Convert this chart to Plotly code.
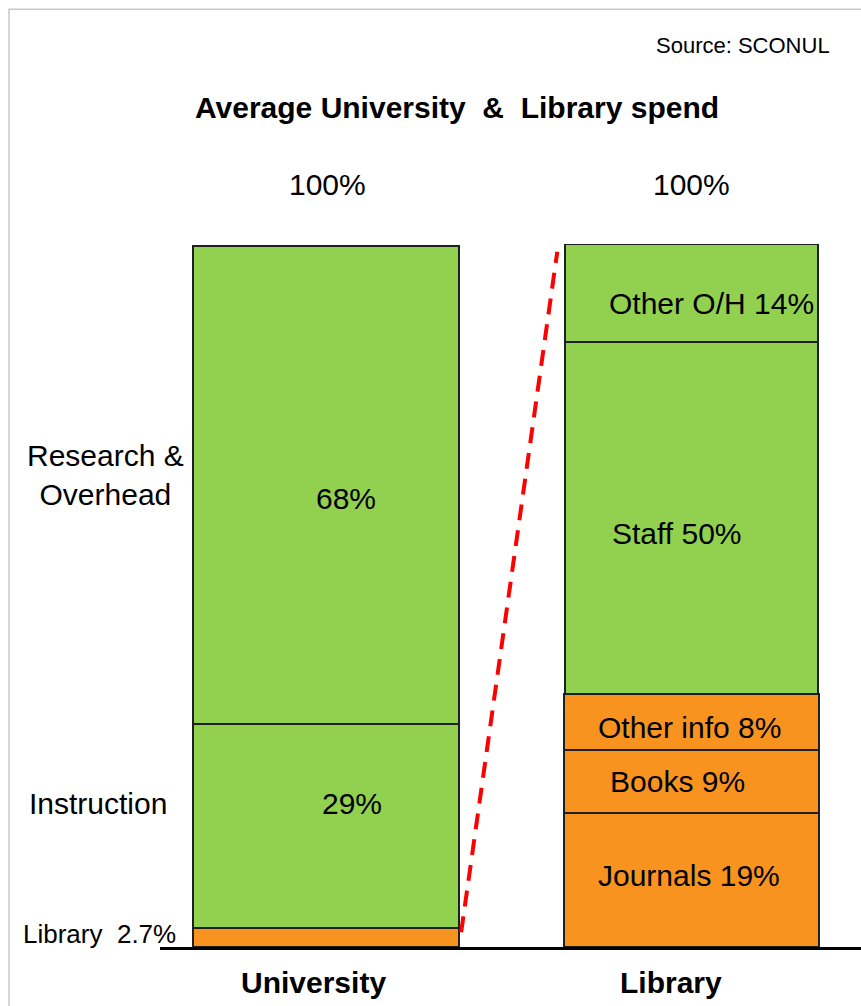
import plotly.graph_objects as go

# ---- data -------------------------------------------------------------
categories = ["University", "Library"]

uni_segments = ["Library", "Instruction", "Research & Overhead"]
uni_values = [2.7, 29, 68]

lib_segments = ["Journals", "Books", "Other info", "Staff", "Other O/H"]
lib_values = [19, 9, 8, 50, 14]

# ---- styling ----------------------------------------------------------
GREEN = "#92D050"
ORANGE = "#F8931F"
EDGE = "#1F1F1F"
FONT = "Liberation Sans Narrow, Arial Narrow, Liberation Sans, Arial, sans-serif"

uni_colors = [ORANGE, GREEN, GREEN]
lib_colors = [ORANGE, ORANGE, ORANGE, GREEN, GREEN]
uni_width = 0.728
lib_widths = [0.698, 0.698, 0.698, 0.69, 0.69]

# label nudges (pixels) for the in-bar captions
uni_shift = {"Instruction": (26, 23), "Research & Overhead": (20, -13)}
lib_shift = [(-2, 5), (-14, 0), (-2, -5), (-14, -15), (20, -10)]

fig = go.Figure()

for name, val, col in zip(uni_segments, uni_values, uni_colors):
    fig.add_trace(go.Bar(
        x=[categories[0]], y=[val], name=name, width=uni_width,
        marker=dict(color=col, line=dict(color=EDGE, width=2)),
        hoverinfo="skip", showlegend=False,
    ))

for name, val, col, w in zip(lib_segments, lib_values, lib_colors, lib_widths):
    fig.add_trace(go.Bar(
        x=[categories[1]], y=[val], name=name, width=w,
        marker=dict(color=col, line=dict(color=EDGE, width=2)),
        hoverinfo="skip", showlegend=False,
    ))

annotations = []
txt = dict(family=FONT, size=30, color="black")
centered = dict(showarrow=False, xanchor="center", yanchor="middle")

# captions inside the University column
base = 0.0
for name, val in zip(uni_segments, uni_values):
    mid = base + val / 2
    if name in uni_shift:
        dx, dy = uni_shift[name]
        annotations.append(dict(x=0, y=mid, xref="x", yref="y", text=f"{val}%",
                                font=txt, xshift=dx, yshift=dy, **centered))
    base += val

# segment names to the left of the University column
left_specs = {
    "Research & Overhead": ("Research &amp;<br>Overhead", 30, -0.078, 10),
    "Instruction": ("Instruction", 30, -0.088, 23),
    "Library": (f"Library  {uni_values[0]}%", 26, -0.086, 4),
}
base = 0.0
for name, val in zip(uni_segments, uni_values):
    mid = base + val / 2
    label, size, xp, dy = left_specs[name]
    annotations.append(dict(x=xp, y=mid, xref="paper", yref="y", text=label,
                            align="center", yshift=dy,
                            font=dict(family=FONT, size=size, color="black"),
                            **centered))
    base += val

# captions inside the Library column
base = 0.0
for (name, val), (dx, dy) in zip(zip(lib_segments, lib_values), lib_shift):
    mid = base + val / 2
    annotations.append(dict(x=1, y=mid, xref="x", yref="y", text=f"{name} {val}%",
                            font=txt, xshift=dx, yshift=dy, **centered))
    base += val

# totals above the columns
for i, vals in enumerate([uni_values, lib_values]):
    annotations.append(dict(x=i, y=1.084, xref="x", yref="paper",
                            text=f"{round(sum(vals))}%", font=txt,
                            xshift=2 if i == 0 else 0, **centered))

# column names under the baseline
for i, (cat, dx) in enumerate(zip(categories, [-12, -20])):
    annotations.append(dict(x=i, y=-0.051, xref="x", yref="paper", text=f"<b>{cat}</b>",
                            font=txt, xshift=dx, **centered))

annotations.append(dict(x=0.4237, y=1.1935, xref="paper", yref="paper",
                        text="<b>Average University  &amp;  Library spend</b>",
                        font=txt, **centered))
annotations.append(dict(x=0.9586, y=1.283, xref="paper", yref="paper", xanchor="right",
                        yanchor="middle", text="Source: SCONUL", showarrow=False,
                        font=dict(family=FONT, size=22, color="black")))

shapes = [
    # dashed link from the library slice of University spend to the Library column
    dict(type="line", xref="x", yref="y",
         x0=uni_width / 2 + 0.006, y0=uni_values[0] - 0.6,
         x1=1 - lib_widths[-1] / 2 - 0.022, y1=sum(lib_values) - 1.1,
         line=dict(color="#FF0000", width=4, dash="16px,10px")),
    # light frame around the slide
    dict(type="rect", xref="paper", yref="paper",
         x0=-0.2154, y0=-0.2, x1=1.1, y1=1.334,
         line=dict(color="#C8C8C8", width=1.5), fillcolor="rgba(0,0,0,0)"),
]

fig.update_layout(
    width=861, height=1006, autosize=False,
    margin=dict(l=160, r=0, t=244, b=59),
    barmode="stack", bargap=0,
    plot_bgcolor="white", paper_bgcolor="white",
    annotations=annotations, shapes=shapes,
    xaxis=dict(type="category", range=[-0.454, 1.464], showticklabels=False,
               showgrid=False, zeroline=False, showline=True,
               linecolor="black", linewidth=3, ticks=""),
    yaxis=dict(range=[0, 100], visible=False, showgrid=False, zeroline=False),
)

fig.write_html("out.html")
